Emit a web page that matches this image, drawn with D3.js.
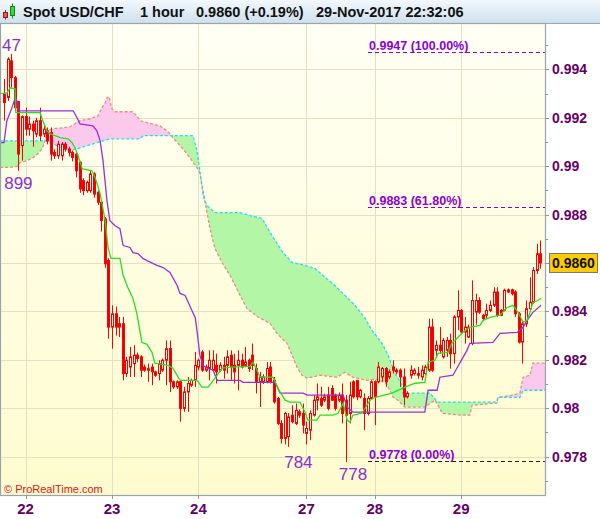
<!DOCTYPE html>
<html><head><meta charset="utf-8">
<script src="https://cdn.jsdelivr.net/npm/d3@7/dist/d3.min.js"></script>
<style>body{margin:0;background:#fff}svg{display:block;font-family:"Liberation Sans",Arial,sans-serif}</style>
</head><body><svg id="c" width="600" height="519"></svg>
<script>
// ---------- DATA ----------
const opens=[.99298,.99284,.99435,.99366,.99267,.99085,.99205,.99153,.99174,.99133,.99188,.99133,.99146,.99139,.99057,.99043,.99043,.99091,.99071,.99057,
.99050,.99016,.98940,.98899,.98899,.98968,.98892,.98851,.98782,.98610,.98335,.98390,.98349,.98349,.98143,.98170,.98184,.98219,.98212,.98170,
.98163,.98170,.98150,.98143,.98157,.98198,.98246,.98109,.98088,.98109,.97999,.98067,.98095,.98115,.98170,.98232,.98157,.98164,.98157,.98177,
.98157,.98177,.98177,.98219,.98177,.98177,.98198,.98177,.98198,.98219,.98164,.98109,.98109,.98109,.98170,.98115,.98040,.97937,.97875,.97882,
.97971,.97937,.97985,.97978,.97896,.97909,.97971,.98033,.98040,.98033,.98054,.98081,.98054,.98033,.98054,.98033,.97978,.98109,.98115,.98047,
.98040,.97978,.98040,.98109,.98109,.98129,.98164,.98129,.98170,.98157,.98157,.98129,.98047,.98136,.98143,.98143,.98129,.98143,.98157,.98335,
.98239,.98260,.98212,.98239,.98280,.98225,.98377,.98404,.98315,.98294,.98267,.98397,.98445,.98384,.98384,.98404,.98425,.98480,.98404,.98404,
.98480,.98489,.98480,.98390,.98273,.98349,.98411,.98438,.98569,.98638];
const highs=[.99360,.99450,.99463,.99373,.99270,.99210,.99242,.99205,.99188,.99200,.99242,.99170,.99160,.99160,.99070,.99105,.99100,.99100,.99080,.99065,
.99057,.99020,.98950,.98940,.98980,.98975,.98900,.98860,.98790,.98620,.98425,.98420,.98377,.98377,.98212,.98253,.98260,.98230,.98219,.98180,
.98184,.98184,.98155,.98198,.98205,.98280,.98280,.98115,.98115,.98115,.98088,.98129,.98122,.98232,.98205,.98240,.98180,.98239,.98239,.98225,
.98190,.98212,.98239,.98239,.98225,.98239,.98225,.98253,.98205,.98267,.98184,.98150,.98140,.98191,.98191,.98129,.98047,.97951,.97985,.97980,
.98012,.98019,.97995,.98019,.97944,.97991,.98054,.98102,.98088,.98060,.98088,.98095,.98060,.98065,.98102,.98054,.98109,.98115,.98115,.98080,
.98061,.98050,.98115,.98115,.98191,.98170,.98170,.98160,.98198,.98165,.98164,.98164,.98070,.98177,.98165,.98170,.98177,.98180,.98370,.98370,
.98280,.98335,.98290,.98294,.98308,.98384,.98487,.98410,.98377,.98345,.98528,.98473,.98459,.98390,.98432,.98445,.98500,.98500,.98410,.98494,
.98495,.98494,.98487,.98397,.98356,.98445,.98541,.98583,.98679,.98693];
const lows=[.99188,.99270,.99325,.99229,.98981,.99023,.99126,.99126,.99080,.99120,.99105,.99120,.99090,.99023,.99030,.99030,.99023,.99060,.99040,.99020,
.98954,.98890,.98880,.98890,.98890,.98870,.98840,.98730,.98580,.98287,.98246,.98300,.98294,.98115,.98129,.98129,.98129,.98190,.98129,.98150,
.98109,.98095,.98130,.98115,.98150,.98095,.98067,.98080,.98080,.97944,.97985,.97985,.98088,.98088,.98157,.98150,.98150,.98115,.98150,.98102,
.98150,.98122,.98143,.98115,.98102,.98074,.98164,.98170,.98150,.98157,.98061,.98005,.98100,.98102,.98102,.98019,.97930,.97854,.97850,.97840,
.97937,.97930,.97960,.97896,.97850,.97868,.97965,.97991,.98005,.98025,.97991,.98030,.97990,.98025,.97937,.97777,.97937,.98040,.98033,.98040,
.97909,.97970,.98035,.97930,.98102,.98109,.98088,.98120,.98143,.98140,.98088,.98012,.98040,.98122,.98135,.98122,.98115,.98135,.98150,.98150,
.98212,.98225,.98205,.98212,.98164,.98184,.98322,.98310,.98267,.98290,.98260,.98345,.98390,.98360,.98370,.98397,.98418,.98377,.98380,.98400,
.98475,.98466,.98377,.98267,.98184,.98335,.98405,.98432,.98555,.98576];
const closes=[.99263,.99442,.99366,.99242,.99050,.99205,.99153,.99174,.99146,.99188,.99126,.99153,.99105,.99050,.99043,.99091,.99091,.99071,.99057,.99036,
.98981,.98906,.98899,.98933,.98968,.98885,.98851,.98775,.98597,.98335,.98390,.98335,.98335,.98143,.98198,.98212,.98219,.98205,.98157,.98157,
.98157,.98150,.98136,.98184,.98198,.98246,.98109,.98088,.98109,.97999,.98067,.98102,.98115,.98177,.98198,.98157,.98170,.98198,.98198,.98150,
.98177,.98157,.98212,.98170,.98150,.98198,.98170,.98191,.98164,.98177,.98109,.98129,.98129,.98164,.98109,.98026,.97937,.97875,.97978,.97964,
.97944,.97991,.97971,.97930,.97916,.97978,.98033,.98047,.98012,.98047,.97999,.98033,.97999,.98054,.97978,.97971,.98054,.98047,.98047,.98074,
.97978,.98040,.98109,.98047,.98170,.98164,.98109,.98150,.98157,.98150,.98129,.98047,.98061,.98157,.98157,.98136,.98157,.98170,.98335,.98157,
.98260,.98239,.98280,.98280,.98225,.98377,.98404,.98315,.98335,.98335,.98445,.98445,.98397,.98370,.98404,.98425,.98480,.98384,.98384,.98487,
.98489,.98473,.98390,.98273,.98349,.98411,.98438,.98569,.98638,.98600];

const tenkan=[[-1.1,.99299],[0.8,.99303],[1.7,.99324],[3.1,.99320],[3.3,.99221],[10,.99221],[10.8,.99188],[11.9,.99146],[12.8,.99134],[14.2,.99126],[15.6,.99118],[17.8,.99113],[18.9,.99097],[19.7,.99076],[20.6,.99043],[21.7,.98990],[24.4,.98981],[25.3,.98953],[26.7,.98887],[28.1,.98775],[28.9,.98664],[29.7,.98619],[32.2,.98619],[33.1,.98548],[34.4,.98499],[35.8,.98454],[36.9,.98392],[38.3,.98272],[39.7,.98264],[41.1,.98231],[41.9,.98186],[45.6,.98177],[46.9,.98165],[48.9,.98115],[53.6,.98115],[55,.98087],[56.7,.98087],[58.6,.98124],[60.6,.98165],[61.9,.98169],[68.3,.98173],[69.2,.98190],[70.3,.98157],[71.1,.98128],[74.7,.98128],[76.7,.98066],[78.1,.98033],[79.4,.98025],[82.2,.98025],[83.6,.97984],[84.4,.97951],[86.9,.97951],[87.8,.97971],[91.4,.97971],[92.8,.97979],[94.2,.98021],[95.3,.97951],[96.1,.97942],[96.9,.97971],[99.4,.97979],[101.7,.98033],[103.1,.98045],[107.8,.98062],[111.4,.98087],[114.2,.98103],[116.9,.98107],[117.8,.98190],[119.7,.98198],[120.6,.98227],[123.3,.98231],[124.4,.98268],[126.1,.98293],[128.1,.98322],[129.4,.98334],[132.2,.98342],[133.1,.98363],[135,.98375],[137.8,.98384],[139.7,.98416],[141.4,.98425],[142.8,.98396],[144.2,.98355],[145.3,.98363],[146.1,.98396],[146.9,.98437],[148.3,.98445],[149.2,.98454]];
const kijun=[[-1.1,.99097],[0,.99097],[0.8,.99188],[2.2,.99241],[3.1,.99282],[3.6,.99270],[4.2,.99229],[19.2,.99229],[20.3,.99200],[21.1,.99175],[24.7,.99167],[25.8,.99146],[26.7,.99105],[27.5,.99023],[28.6,.98858],[29.4,.98775],[30.8,.98755],[32.2,.98742],[33.1,.98672],[35,.98664],[35.8,.98643],[37.2,.98639],[38.6,.98619],[39.7,.98610],[42.5,.98590],[44.2,.98581],[46.1,.98561],[48.1,.98507],[48.9,.98474],[50.3,.98466],[52.2,.98404],[53.1,.98375],[53.6,.98322],[54.4,.98219],[55.3,.98177],[56.4,.98165],[58.1,.98157],[59.2,.98115],[65.6,.98115],[66.4,.98107],[75.3,.98107],[76.7,.98062],[83.1,.98062],[84.2,.98054],[94.2,.98054],[95.3,.98004],[96.9,.97984],[116.9,.97984],[117.8,.98074],[120.3,.98074],[121.1,.98128],[124.7,.98136],[125.8,.98165],[127.5,.98210],[128.6,.98239],[129.4,.98268],[135.8,.98272],[137.8,.98309],[142.5,.98313],[144.2,.98334],[145.3,.98363],[146.9,.98396],[149.2,.98425]];
const spanA=[[-1.1,.99105],[11.4,.99105],[12.8,.99097],[14.7,.99085],[16.4,.99072],[17.5,.99064],[20.3,.99072],[23.1,.99085],[25.8,.99097],[26.7,.99101],[29.4,.99113],[37.8,.99113],[38.6,.99126],[52.5,.99126],[53.6,.99064],[54.4,.98981],[55.3,.98878],[56.4,.98837],[58.6,.98808],[65.6,.98808],[68.3,.98796],[71.7,.98784],[73.3,.98742],[75.3,.98693],[77.5,.98643],[80,.98602],[83.6,.98590],[86.4,.98577],[88.6,.98548],[91.9,.98507],[94.7,.98466],[97.5,.98425],[100.3,.98371],[102.2,.98322],[104.4,.98280],[105.3,.98260],[106.7,.98219],[108.6,.98144],[110.6,.98095],[110.8,.98062],[118.3,.98062],[120,.98033],[120.6,.98025],[136.9,.98025],[137.2,.98045],[143.3,.98045],[144.2,.98074],[150.3,.98074]];
const spanB=[[-1.1,.98995],[1.7,.98995],[3.6,.99000],[4.4,.99014],[5.8,.99020],[8.1,.99035],[9.4,.99052],[10.6,.99072],[11.4,.99105],[11.9,.99146],[13.6,.99155],[16.4,.99159],[18.3,.99163],[21.1,.99188],[23.9,.99196],[26.1,.99208],[27.2,.99241],[28.1,.99262],[28.6,.99283],[29.2,.99287],[30,.99237],[30.8,.99225],[35.6,.99225],[36.9,.99208],[37.8,.99188],[40,.99179],[43.3,.99167],[45.3,.99146],[46.1,.99134],[46.9,.99118],[48.9,.99085],[50.8,.99052],[52.2,.99023],[53.6,.98994],[54.4,.98973],[55.8,.98858],[57.2,.98742],[58.6,.98660],[60.6,.98602],[62.8,.98548],[65.6,.98466],[67.5,.98412],[70.3,.98379],[73.9,.98351],[75.8,.98309],[78.6,.98268],[80.3,.98210],[81.4,.98169],[82.8,.98136],[84.2,.98124],[87.8,.98136],[92.5,.98128],[94.7,.98148],[96.9,.98128],[100.8,.98115],[103.1,.98120],[105.8,.98107],[106.7,.98087],[108.1,.98045],[109.4,.98033],[111.4,.98004],[116.9,.98004],[118.9,.98025],[119.7,.98033],[120.6,.98012],[121.7,.97979],[127.2,.97971],[129.4,.97971],[130,.98012],[136.9,.98021],[137.2,.98045],[141.4,.98054],[143.3,.98062],[144.2,.98128],[146.1,.98136],[146.9,.98186],[150.3,.98186]];

const dayLabels=["22","23","24","27","28","29"];
const dayIndex=[6,30,54,84,103,127];
const priceTicks=[0.978,0.98,0.982,0.984,0.986,0.988,0.99,0.992,0.994];
const priceLabels=["0.978","0.98","0.982","0.984","","0.988","0.99","0.992","0.994"];
const minorTicks=[0.977,0.979,0.981,0.983,0.985,0.987,0.989,0.991,0.993,0.995];
const fibValues=[0.9947,0.9883,0.9778];
const fibTexts=["0.9947 (100.00%)","0.9883 (61.80%)","0.9778 (0.00%)"];
const swingTexts=["47","899","784","778"];
const swingIndex=[2,4,79,95];
const swingValues=[0.9947,0.9899,0.9784,0.9778];
const lastPrice=0.9860, lastPriceText="0.9860";
const headerTexts=["Spot USD/CHF","1 hour","0.9860 (+0.19%)","29-Nov-2017 22:32:06"];

// ---------- LAYOUT ----------
const svg=d3.select("#c");
const L=1,R=545,T=24,B=495;
const x=d3.scaleLinear().domain([0,149]).range([4,540.4]);
const y=d3.scaleLinear().domain([0.976412,0.995876]).range([B,T]);
const defs=svg.append("defs");
const bg=defs.append("linearGradient").attr("id","bg").attr("x1",0).attr("y1",0).attr("x2",0).attr("y2",1);
bg.append("stop").attr("offset","0").attr("stop-color","#fffff4");
bg.append("stop").attr("offset","1").attr("stop-color","#fefcce");
const hg=defs.append("linearGradient").attr("id","hg").attr("x1",0).attr("y1",0).attr("x2",0).attr("y2",1);
hg.append("stop").attr("offset","0").attr("stop-color","#f2f8fd");
hg.append("stop").attr("offset","1").attr("stop-color","#cddfec");
defs.append("clipPath").attr("id","plot").append("rect").attr("x",L).attr("y",T).attr("width",R-L).attr("height",B-T);

const areaTop=d=>d3.area().x(p=>x(p[0])).y0(T-5).y1(p=>y(p[1]))(d);
const areaBot=d=>d3.area().x(p=>x(p[0])).y0(p=>y(p[1])).y1(B+5)(d);
defs.append("clipPath").attr("id","aboveB").append("path").attr("d",areaTop(spanB));
defs.append("clipPath").attr("id","aboveA").append("path").attr("d",areaTop(spanA));

// header
svg.append("rect").attr("x",0).attr("y",0).attr("width",600).attr("height",T).attr("fill","url(#hg)");
svg.append("line").attr("x1",0).attr("x2",600).attr("y1",T-0.5).attr("y2",T-0.5).attr("stroke","#9aa8b4");
// icon
svg.append("line").attr("x1",5.5).attr("x2",5.5).attr("y1",10).attr("y2",19.5).attr("stroke","#a01818");
svg.append("rect").attr("x",3.5).attr("y",12.5).attr("width",4).attr("height",5).attr("fill","#ee5555").attr("stroke","#a01818");
svg.append("line").attr("x1",12.5).attr("x2",12.5).attr("y1",3.5).attr("y2",18.5).attr("stroke","#178817");
svg.append("rect").attr("x",10.5).attr("y",6.5).attr("width",4).attr("height",9).attr("fill","#33dd33").attr("stroke","#178817");
const hx=[23,140,196,316];
headerTexts.forEach((t,k)=>svg.append("text").attr("x",hx[k]).attr("y",17).attr("font-size","14.5px").attr("font-weight","bold").attr("fill","#111").text(t));

// plot background
svg.append("rect").attr("x",L).attr("y",T).attr("width",R-L).attr("height",B-T).attr("fill","url(#bg)");
const plot=svg.append("g").attr("clip-path","url(#plot)");
// grid
plot.selectAll(".hg").data(priceTicks).enter().append("line")
 .attr("x1",L).attr("x2",R).attr("y1",d=>Math.round(y(d))+0.5).attr("y2",d=>Math.round(y(d))+0.5)
 .attr("stroke","#e4e0c4").attr("stroke-width",1);
plot.selectAll(".vg").data(dayIndex).enter().append("line")
 .attr("y1",T).attr("y2",B).attr("x1",d=>Math.round(x(d))+0.5).attr("x2",d=>Math.round(x(d))+0.5)
 .attr("stroke","#e4e0c4").attr("stroke-width",1);

// cloud fills
plot.append("g").attr("clip-path","url(#aboveB)").append("path").attr("d",areaBot(spanA)).attr("fill","#b3f6a6");
plot.append("g").attr("clip-path","url(#aboveA)").append("path").attr("d",areaBot(spanB)).attr("fill","#fac9ec");
const line=d3.line().x(p=>x(p[0])).y(p=>y(p[1]));
plot.append("path").attr("d",line(spanB)).attr("fill","none").attr("stroke","#ee8a86").attr("stroke-width",1.3).attr("stroke-dasharray","3,2");
plot.append("path").attr("d",line(spanA)).attr("fill","none").attr("stroke","#22dded").attr("stroke-width",1.3).attr("stroke-dasharray","3,2");

// candles
const idx=d3.range(opens.length);
const cg=plot.append("g");
cg.selectAll(".w").data(idx).enter().append("line")
 .attr("x1",i=>Math.round(x(i))+0.5).attr("x2",i=>Math.round(x(i))+0.5)
 .attr("y1",i=>y(highs[i])).attr("y2",i=>y(lows[i]))
 .attr("stroke","#ff0000").attr("stroke-width",1);
cg.selectAll(".b").data(idx).enter().append("rect")
 .attr("x",i=>Math.round(x(i))-1+0.5).attr("width",2)
 .attr("y",i=>y(Math.max(opens[i],closes[i])))
 .attr("height",i=>Math.max(1,Math.abs(y(opens[i])-y(closes[i]))))
 .attr("fill",i=>closes[i]<opens[i]?"#e80000":"#fffde6")
 .attr("stroke","#ff0000").attr("stroke-width",1);

// tenkan / kijun
plot.append("path").attr("d",line(kijun)).attr("fill","none").attr("stroke","#9b2fd0").attr("stroke-width",1.3);
plot.append("path").attr("d",line(tenkan)).attr("fill","none").attr("stroke","#22e022").attr("stroke-width",1.3);

// fib levels
fibValues.forEach((v,k)=>{
  const yy=Math.round(y(v))+0.5;
  plot.append("line").attr("x1",368).attr("x2",R).attr("y1",yy).attr("y2",yy)
   .attr("stroke",k===2?"#222":"#8b00d8").attr("stroke-width",1).attr("stroke-dasharray","4,3");
  plot.append("text").attr("x",369).attr("y",yy-3).attr("font-size","12.5px").attr("font-weight","bold")
   .attr("fill","#8b00d8").text(fibTexts[k]);
});
// swing labels
const swDx=[-2,0,10,7], swDy=[-1,20,21,19], swAnchor=["start","middle","middle","middle"];
swingTexts.forEach((t,k)=>{
  const xx=k===0?2:x(swingIndex[k])+swDx[k];
  plot.append("text").attr("x",xx).attr("y",y(swingValues[k])+swDy[k]).attr("text-anchor",swAnchor[k])
   .attr("font-size","17px").attr("fill","#8a2fd0").text(t);
});
plot.append("text").attr("x",4).attr("y",493).attr("font-size","11px").attr("fill","#e01414").text("\u00a9 ProRealTime.com");

// frame
svg.append("rect").attr("x",L-0.5).attr("y",T-0.5).attr("width",R-L+1).attr("height",B-T+1).attr("fill","none").attr("stroke","#97a3ad").attr("stroke-width",1.2);

// right axis
const ax=svg.append("g");
ax.selectAll(".mt").data(priceTicks).enter().append("line").attr("x1",R).attr("x2",R+4)
 .attr("y1",d=>Math.round(y(d))+0.5).attr("y2",d=>Math.round(y(d))+0.5).attr("stroke","#8a96a0");
ax.selectAll(".nt").data(minorTicks).enter().append("line").attr("x1",R).attr("x2",R+3)
 .attr("y1",d=>Math.round(y(d))+0.5).attr("y2",d=>Math.round(y(d))+0.5).attr("stroke","#8a96a0");
ax.selectAll(".lb").data(priceTicks).enter().append("text").attr("x",552).attr("y",d=>y(d)+5)
 .attr("font-size","14px").attr("font-weight","bold").attr("fill","#660066").text((d,k)=>priceLabels[k]);
const ly=y(lastPrice);
ax.append("rect").attr("x",549.5).attr("y",ly-9.5).attr("width",48).attr("height",19).attr("fill","#ffcc00").attr("stroke","#777");
ax.append("text").attr("x",552).attr("y",ly+5).attr("font-size","14px").attr("font-weight","bold").attr("fill","#111").text(lastPriceText);

// bottom axis
const bx=svg.append("g");
bx.selectAll(".bt").data(dayIndex).enter().append("line").attr("x1",d=>Math.round(x(d))+0.5).attr("x2",d=>Math.round(x(d))+0.5)
 .attr("y1",B).attr("y2",B+4).attr("stroke","#8a96a0");
bx.selectAll(".bl").data(dayIndex).enter().append("text").attr("x",d=>x(d)).attr("y",514).attr("text-anchor","middle")
 .attr("font-size","15px").attr("font-weight","bold").attr("fill","#660066").text((d,k)=>dayLabels[k]);
</script></body></html>
